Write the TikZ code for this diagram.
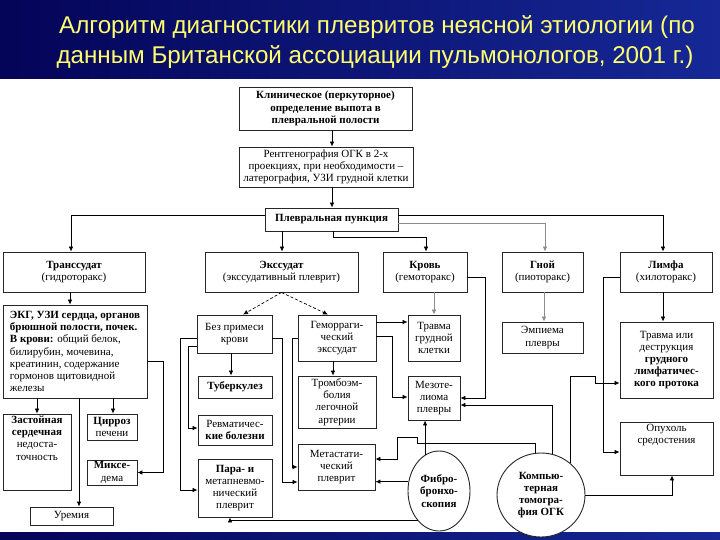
\documentclass[tikz,border=0pt]{standalone}
\usepackage{fontspec}
\setmainfont{Liberation Serif}
\newfontfamily\titlefont{Liberation Sans}
\usetikzlibrary{arrows.meta,calc,shapes.geometric}
\definecolor{ttlyellow}{RGB}{255,255,110}
\definecolor{bgdark}{RGB}{4,4,88}
\definecolor{bglight}{RGB}{22,40,150}
\newcommand{\boxfs}{\fontsize{11}{12.2}\selectfont}
\newcommand{\topbox}[3]{\parbox[c][#2][t]{#1}{\centering\vspace*{2pt}#3}}
\begin{document}
\begin{tikzpicture}[x=1pt,y=-1pt,
 bx/.style={draw=black!85,line width=0.9pt,fill=white,align=center,inner sep=1pt,font=\boxfs},
 el/.style={draw=black!85,line width=0.9pt,fill=white,ellipse,align=center,inner sep=0pt,font=\boxfs\bfseries},
 arr/.style={draw=black,line width=0.7pt,-{Latex[length=5pt,width=4.5pt]}},
 garr/.style={arr,draw=black!45},
 darr/.style={arr,densely dashed},
 ttl/.style={text=ttlyellow,font=\titlefont\fontsize{24.2}{28}\selectfont}]
\useasboundingbox (0,0) rectangle (720,540);
\shade[left color=bgdark,right color=bglight] (0,0) rectangle (720,540);
\fill[white] (0,79) rectangle (720,532);
% title
\node[ttl] (t1) at (377,27) {Алгоритм диагностики плевритов неясной этиологии (по};
\node[ttl] (t2) at (375,57) {данным Британской ассоциации пульмонологов, 2001 г.)};
% boxes
\node[bx,minimum width=173,minimum height=43,font=\boxfs\bfseries] (b1) at (325.5,108.5) {Клиническое (перкуторное)\\определение выпота в\\плевральной полости};
\node[bx,minimum width=174,minimum height=40] (b2) at (326,167) {Рентгенография ОГК в 2-х\\проекциях, при необходимости –\\латерография, УЗИ грудной клетки};
\node[bx,minimum width=133,minimum height=23,font=\boxfs\bfseries] (b3) at (331.5,219.5) {Плевральная пункция};
\node[bx,minimum width=142,minimum height=40] (tr) at (74,272) {\textbf{Транссудат}\\(гидроторакс)};
\node[bx,minimum width=153,minimum height=40] (ex) at (281.5,272) {\textbf{Экссудат}\\(экссудативный плеврит)};
\node[bx,minimum width=84,minimum height=40] (kr) at (425,272) {\textbf{Кровь}\\(гемоторакс)};
\node[bx,minimum width=81,minimum height=40] (gn) at (542.5,272) {\textbf{Гной}\\(пиоторакс)};
\node[bx,minimum width=92,minimum height=40] (lf) at (666,272) {\textbf{Лимфа}\\(хилоторакс)};
\node[bx,minimum width=144,minimum height=93,align=left,inner sep=4pt] (ekg) at (75,351.5) {\textbf{ЭКГ, УЗИ сердца, органов}\\\textbf{брюшной полости, почек.}\\\textbf{В крови:} общий белок,\\билирубин, мочевина,\\креатинин, содержание\\гормонов щитовидной\\железы};
\node[bx,inner sep=0pt] (zast) at (37,452) {\topbox{68pt}{76pt}{\textbf{Застойная}\\\textbf{сердечная}\\недоста-\\точность}};
\node[bx,minimum width=50,minimum height=26] (cirr) at (112,427) {\textbf{Цирроз}\\печени};
\node[bx,minimum width=50,minimum height=25] (mix) at (112,472.5) {\textbf{Миксе-}\\дема};
\node[bx,minimum width=83,minimum height=18] (urem) at (71.5,516) {Уремия};
\node[bx,minimum width=75,minimum height=38] (bez) at (234.5,334) {Без примеси\\крови};
\node[bx,minimum width=74,minimum height=22,font=\boxfs\bfseries] (tub) at (235,387) {Туберкулез};
\node[bx,minimum width=74,minimum height=30] (rev) at (235,430) {Ревматичес-\\\textbf{кие болезни}};
\node[bx,minimum width=74,minimum height=58] (para) at (235,488) {\textbf{Пара- и}\\метапневмо-\\нический\\плеврит};
\node[bx,minimum width=78,minimum height=46] (gem) at (337,338) {Геморраги-\\ческий\\экссудат};
\node[bx,minimum width=78,minimum height=52] (trom) at (337,402) {Тромбоэм-\\болия\\легочной\\артерии};
\node[bx,minimum width=77,minimum height=46] (met) at (336.5,467) {Метастати-\\ческий\\плеврит};
\node[bx,minimum width=52,minimum height=46] (trg) at (434,338) {Травма\\грудной\\клетки};
\node[bx,minimum width=52,minimum height=44] (mez) at (434,398) {Мезоте-\\лиома\\плевры};
\node[bx,minimum width=81,minimum height=31] (emp) at (542.5,337.5) {Эмпиема\\плевры};
\node[bx,minimum width=93,minimum height=76] (trl) at (666.5,360) {Травма или\\деструкция\\\textbf{грудного}\\\textbf{лимфатичес-}\\\textbf{кого протока}};
\node[bx,inner sep=0pt] (opu) at (666.5,448.5) {\topbox{93pt}{53pt}{Опухоль\\средостения}};
\node[el,minimum width=62,minimum height=80] (fib) at (439,491) {Фибро-\\бронхо-\\скопия};
\node[el,minimum width=88,minimum height=84] (kt) at (541,495) {Компью-\\терная\\томогра-\\фия ОГК};
% connectors
\draw[arr] (b1.south-|332,0) -- (b2.north-|332,0);
\draw[arr] (b2.south-|332,0) -- (b3.north-|332,0);
\draw[arr] (b3.west|-0,215) -| (tr.north-|71,0);
\draw[arr] (b3.south-|282,0) -- (ex.north-|282,0);
\draw[arr] (b3.south-|333,0) -- (333,237) -| (kr.north-|426,0);
\draw[arr] (b3.east|-0,215) -| (lf.north-|663,0);
\draw[garr] (b3.east|-0,223) -| (gn.north-|545,0);
\draw[arr] (tr.south-|70,0) -- (ekg.north-|70,0);
\draw[darr] (ex.south) -- (bez.north-|243,0);
\draw[darr] (ex.south) -- (gem.north-|328,0);
\draw[arr] (ekg.south-|37,0) -- (zast.north-|37,0);
\draw[arr] (ekg.south-|113,0) -- (cirr.north-|113,0);
\draw[arr] (ekg.south-|79,0) -- (urem.north-|79,0);
\draw[arr] (ekg.east|-0,361) -- (163,361) |- (mix.east);
\draw[arr] (bez.south-|231,0) -- (tub.north-|231,0);
\draw[arr] (bez.west|-0,338) -- (180,338) |- (para.west|-0,490);
\draw[arr] (bez.west|-0,346) -- (188,346) |- (rev.west|-0,428);
\draw[arr] (bez.east|-0,338) -- (282,338) |- (met.west|-0,482);
\draw[arr] (gem.west|-0,338) -- (292,338) |- (met.west|-0,467);
\draw[arr] (gem.south-|333,0) -- (trom.north-|333,0);
\draw[arr] (gem.east|-0,322) -- (trg.west|-0,322);
\draw[arr] (gem.east|-0,336) -- (392,336) |- (mez.west|-0,397);
\draw[garr] (kr.south-|434,0) -- (trg.north-|434,0);
\draw[arr] (kr.east|-0,277) -- (485,277) |- (mez.east|-0,398);
\draw[garr] (gn.south-|544,0) -- (emp.north-|544,0);
\draw[arr] (lf.south-|663,0) -- (trl.north-|663,0);
\draw[arr] (lf.west|-0,277) -- (603,277) |- (opu.west|-0,452);
\draw[arr] (kt.48) |- (595,376) -- (595,383) -- (trl.west|-0,383);
\draw[arr] (kt.east) -| (opu.south-|672,0);
\draw[arr] (kt.75) |- (mez.east|-0,405);
\draw[arr] (kt.98) |- (417,443) -- (417,437) -- (397,437) |- (met.east|-0,459);
\draw[arr] (fib.111) -- (fib.111|-mez.south);
\draw[arr] (fib.163) -- (met.east|-fib.163);
\draw[arr] (fib.234) -| (para.south-|230,0);
\end{tikzpicture}
\end{document}
